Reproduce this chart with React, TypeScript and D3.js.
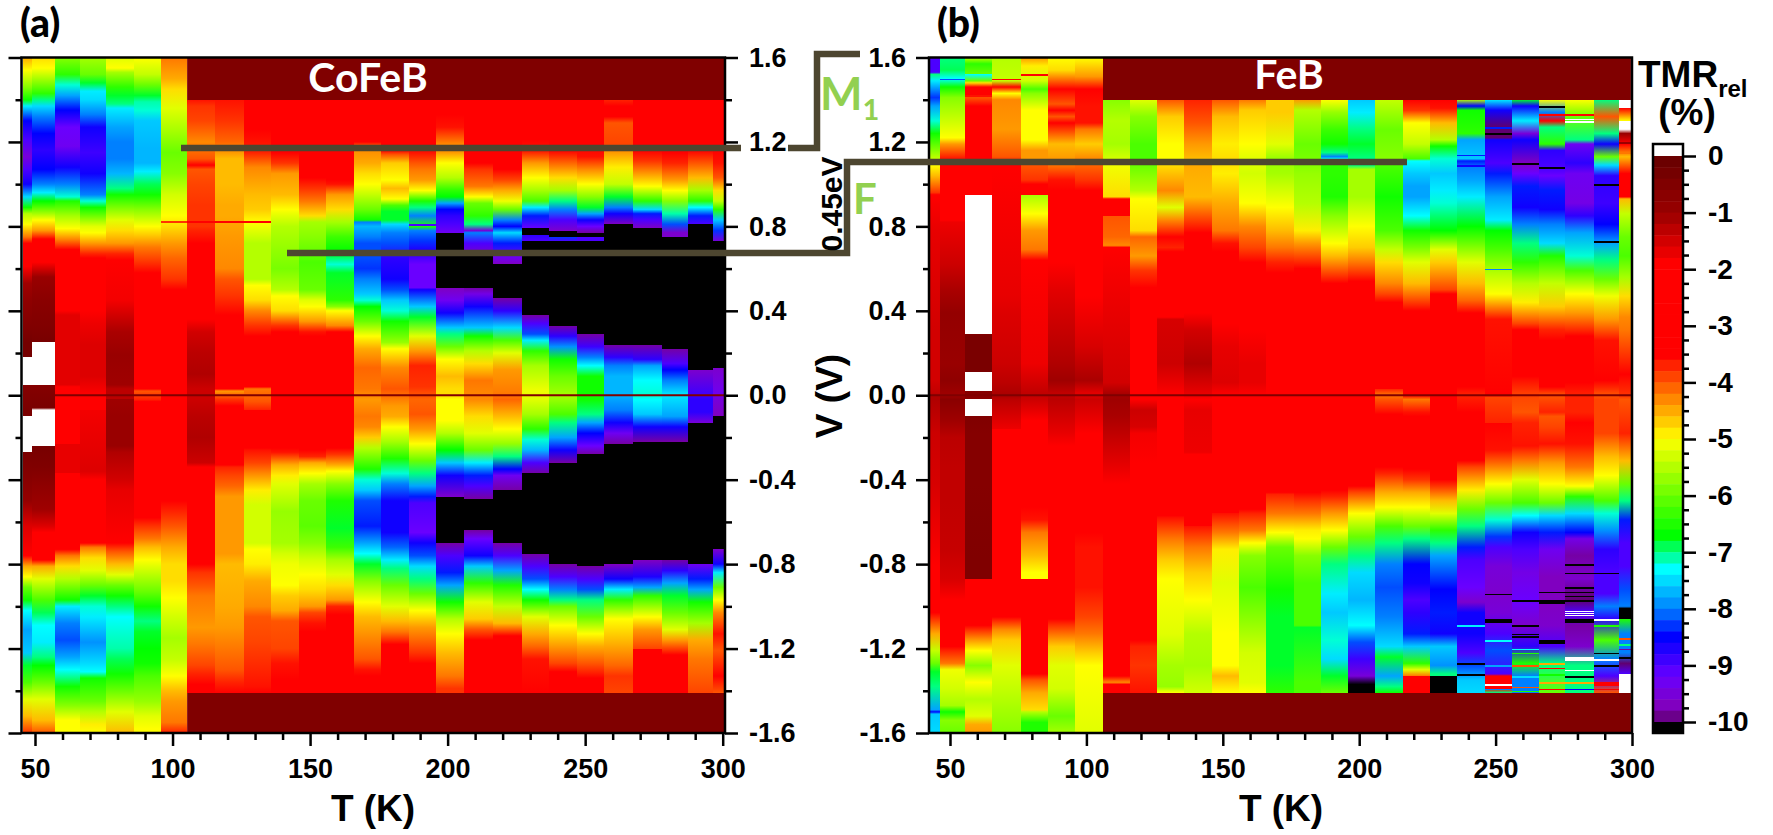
import * as d3 from 'd3';
import { useEffect, useRef } from 'react';

// colour bar levels
const colorValues = [0, -1, -1.9, -3.5, -5, -6.7, -7.3, -8, -8.5, -9.2, -9.7, -10];
const colorHex = ['#660000', '#990000', '#ff0000', '#ff0000', '#ffff00', '#00ff00', '#00ffff', '#0080ff', '#0000ff', '#6a00ff', '#8000c0', '#600070'];
const vMajor = [-1.6, -1.2, -0.8, -0.4, 0, 0.4, 0.8, 1.2, 1.6];
const vMinor = [-1.4, -1, -0.6, -0.2, 0.2, 0.6, 1, 1.4];
const tMajor = [50, 100, 150, 200, 250, 300];
const tMinor = [60, 70, 80, 90, 110, 120, 130, 140, 160, 170, 180, 190, 210, 220, 230, 240, 260, 270, 280, 290];
const barMajor = [0, -1, -2, -3, -4, -5, -6, -7, -8, -9, -10];
const barMinor = d3.range(0, -10.01, -0.25).filter(d => !Number.isInteger(d));
const barSteps = d3.range(0, -10, -0.2);

// column edges in K
const edgesA = [45.6, 48.9, 57.3, 66.4, 75.8, 86, 95.8, 105.3, 115.5, 126, 135.8, 146, 155.8, 166, 175.8, 186, 195.8, 206, 216.5, 227, 237, 247, 257, 267.5, 278, 287.5, 296.5, 300.5];
const edgesB = [42.4, 46.3, 55.5, 65.4, 76, 85.9, 95.8, 106, 115.9, 125.8, 135.7, 146, 155.9, 165.8, 176, 185.9, 195.8, 205.7, 215.9, 225.8, 235.7, 246, 255.9, 265.8, 275.6, 285.9, 295.4, 299.6];

// each column: V, TMR, V, TMR ... read down the column. Same V twice = sharp edge, 1 = no data (white)
const cofeb: number[][] = [
  [1.6,-4.5,1.54,-5,1.46,-5.8,1.4,-6.6,1.37,-7.4,1.3,-8.5,1.21,-9,1.13,-9.5,1.07,-9,1,-8.6,.94,-7.5,.89,-6.6,.86,-5.5,.81,-5,.75,-4.2,.72,-3.5,.61,-1.9,.53,-1.05,.45,-.8,.32,-.5,.25,-.3,.18,-.3,.18,1,.05,1,.05,-.6,-.07,-.4,-.1,-.4,-.1,1,-.27,1,-.27,-.4,-.38,-.6,-.5,-.9,-.62,-1.6,-.76,-3.5,-.81,-4.5,-.86,-5,-.91,-6,-.97,-6.6,-1.02,-7.3,-1.11,-7.8,-1.22,-7.6,-1.28,-6.8,-1.36,-6.2,-1.44,-5.2,-1.52,-4.6,-1.6,-3.8],
  [1.6,-4.8,1.55,-5,1.49,-5.7,1.43,-6.4,1.4,-7,1.37,-7.5,1.32,-8,1.24,-8.5,1.16,-8.8,1.07,-8.5,1,-8,.96,-7.4,.92,-6.7,.86,-5.6,.83,-5,.78,-4.4,.74,-3.5,.63,-1.9,.56,-1,.45,-.7,.32,-.5,.25,-.35,.25,1,.05,1,.05,-.6,-.06,-.4,-.07,1,-.24,1,-.24,-.35,-.34,-.5,-.43,-.8,-.54,-1.05,-.62,-1.6,-.65,-2.2,-.78,-3.5,-.81,-4.5,-.87,-5.2,-.97,-6.2,-1.03,-6.9,-1.09,-7.3,-1.17,-7.4,-1.24,-7,-1.28,-6.7,-1.36,-6,-1.44,-5.2,-1.54,-4.6,-1.6,-4],
  [1.6,-5.8,1.52,-6.4,1.47,-7.2,1.42,-7.8,1.35,-8.5,1.27,-9.2,1.18,-9.3,1.08,-8.6,1,-8,.94,-7.2,.92,-6.5,.85,-5.6,.79,-5,.74,-4.3,.69,-3.5,.4,-3,.38,-1.65,.05,-1.65,.04,-3,-.23,-3,-.23,-1.7,-.37,-1.7,-.37,-3,-.73,-3.3,-.76,-4.2,-.81,-4.8,-.87,-5.5,-.97,-6.6,-1,-7.4,-1.08,-8,-1.16,-8.2,-1.24,-7.8,-1.3,-7.3,-1.38,-6.6,-1.47,-5.8,-1.54,-5,-1.6,-5],
  [1.6,-5.6,1.52,-6,1.48,-6.8,1.44,-7.4,1.4,-7.5,1.33,-8,1.27,-8.6,1.15,-8.9,1.05,-8.6,.95,-8,.92,-7.2,.89,-6.6,.8,-5.2,.77,-5,.72,-4.4,.67,-3.7,.65,-3.5,.4,-3,.34,-1.75,.24,-1.6,.09,-1.6,0,-2.2,-.07,-3,-.07,-1.8,-.36,-1.6,-.4,-3,-.7,-3.2,-.72,-4.2,-.77,-4.8,-.83,-5.2,-.9,-6,-.95,-6.8,-1,-7.2,-1.05,-7.4,-1.17,-7.9,-1.27,-7.5,-1.31,-7.3,-1.34,-6.6,-1.45,-6,-1.5,-5.5,-1.56,-4.9,-1.6,-5],
  [1.6,-5.2,1.55,-5,1.53,-5.6,1.46,-6.4,1.42,-6.8,1.38,-7,1.36,-7.4,1.27,-7.8,1.2,-8,1.12,-8,1.05,-7.7,.98,-7,.95,-6.6,.9,-6,.83,-5.2,.78,-4.8,.72,-4.4,.67,-3.7,.64,-3.5,.45,-1.8,.3,-1.15,.19,-1,.05,-1.05,.03,-1.3,-.02,-1.3,-.02,-1.05,-.1,-1,-.24,-1,-.27,-1.2,-.4,-1.5,-.45,-1.7,-.7,-3,-.74,-4,-.8,-4.6,-.85,-5.2,-.9,-6,-.95,-6.6,-1,-7,-1.05,-7.3,-1.12,-7.2,-1.2,-7.1,-1.25,-6.9,-1.32,-6.6,-1.4,-6,-1.5,-5.2,-1.6,-4.6],
  [1.6,-5,1.52,-5.4,1.47,-6,1.42,-6.8,1.39,-7.1,1.35,-7.2,1.3,-7.6,1.17,-7.7,1.1,-7.7,1.06,-7.4,1,-6.9,.95,-6.6,.88,-5.8,.84,-5.4,.8,-5,.76,-4.7,.7,-4.2,.63,-3.8,.58,-3.5,.4,-3,.03,-3.3,.02,-4,-.02,-3.7,-.03,-3.2,-.5,-3.2,-.58,-3.5,-.62,-3.8,-.68,-4.2,-.72,-4.6,-.78,-5,-.84,-5.4,-.93,-6,-1,-6.6,-1.07,-7,-1.12,-6.8,-1.2,-6.7,-1.27,-6.6,-1.33,-6.2,-1.45,-5.7,-1.52,-5.2,-1.58,-5,-1.6,-5],
  [1.6,-4.2,1.5,-4.5,1.45,-4.8,1.36,-5.2,1.25,-5.6,1.15,-6,1.05,-5.8,.95,-5.3,.85,-5,.8,-4.8,.72,-4.4,.65,-4.1,.55,-3.8,.5,-3.5,.02,-3.3,-.5,-3,-.55,-3.7,-.62,-4,-.68,-4.3,-.72,-4.5,-.8,-4.8,-.88,-4.8,-.96,-5,-1.05,-5.3,-1.15,-5.6,-1.25,-5.4,-1.33,-5,-1.4,-4.6,-1.45,-4.4,-1.55,-4.2,-1.59,-3.8,-1.6,-3.6],
  [1.4,-3.6,1.37,-3.8,1.3,-3.9,1.2,-4.3,1.12,-4,1.09,-3.4,1.07,-4,1,-3.9,.9,-3.8,.8,-3.8,.78,-3.7,.72,-3.4,.62,-3,.36,-2.2,.3,-1.5,.2,-1.3,.1,-1.2,.03,-1.45,-.02,-1.45,-.1,-1.3,-.2,-1.2,-.32,-1.45,-.34,-2.4,-.6,-3,-.8,-3,-.84,-3.8,-.9,-4,-.95,-4.2,-1.1,-4.4,-1.18,-4.2,-1.28,-3.9,-1.32,-3.7,-1.37,-3.4,-1.41,-3.3],
  [1.4,-3.6,1.3,-3.8,1.2,-4.1,1.15,-4.4,1.12,-4.6,1,-4.6,.9,-4.5,.85,-4.5,.75,-4.4,.6,-4.3,.55,-4,.47,-3.8,.41,-3.6,.38,-3.1,.03,-3.1,.02,-4.4,-.02,-3.8,-.05,-3.1,-.33,-3,-.34,-3.7,-.38,-3.9,-.43,-4.1,-.48,-4.4,-.75,-4.4,-.8,-4.6,-1,-4.5,-1.1,-4.4,-1.2,-4.2,-1.3,-4,-1.36,-3.7,-1.41,-3.5],
  [1.4,-3,1.33,-3.1,1.3,-3.2,1.26,-3,1.2,-3.6,1.15,-3.7,1.08,-4.3,.95,-4.6,.88,-4.7,.82,-5,.72,-5.5,.55,-5.5,.52,-5,.45,-4.8,.4,-4.3,.33,-3.8,.28,-3.3,.04,-3,.03,-4.2,-.03,-4,-.07,-3.7,-.07,-3,-.25,-3,-.26,-3.6,-.32,-3.9,-.37,-4.3,-.45,-4.9,-.52,-5.3,-.7,-5.3,-.73,-5,-.8,-4.9,-.88,-4.5,-1,-4.3,-1.05,-4,-1.17,-3.9,-1.38,-3.6,-1.41,-3.4],
  [1.4,-3,1.2,-3.1,1.15,-3.4,1.1,-3.8,1.05,-4.4,.95,-4.6,.88,-5,.85,-5.2,.8,-5.5,.7,-5.7,.6,-5.9,.5,-5.5,.47,-5,.4,-4.8,.33,-3.8,.3,-3.3,0,-3,-.25,-3,-.27,-3.6,-.33,-4.5,-.38,-4.9,-.42,-5.2,-.55,-5.7,-.7,-5.6,-.75,-5.3,-.8,-5.1,-.9,-5,-.95,-4.7,-1.02,-4.5,-1.07,-4,-1.2,-3.9,-1.27,-3.6,-1.35,-3.4,-1.41,-3.3],
  [1.4,-3,1.12,-3,1.08,-3.4,1.03,-3.5,.98,-3.8,.92,-4.2,.85,-4.8,.82,-5.6,.75,-5.8,.63,-6.2,.5,-6,.45,-5.2,.42,-5,.35,-4.4,.3,-3.6,.28,-3.2,.01,-3,-.26,-3,-.29,-3.7,-.32,-4.5,-.37,-5,-.42,-5.6,-.5,-6,-.62,-6.1,-.7,-5.8,-.78,-5.3,-.85,-5,-.92,-4.8,-1,-4.4,-1.03,-3.9,-1.08,-3.6,-1.12,-3.1,-1.41,-3],
  [1.4,-3,1.02,-3,1,-3.6,.95,-4.4,.88,-4.8,.82,-5.6,.75,-6.3,.68,-6.7,.62,-7.2,.58,-6.8,.45,-6.4,.42,-5.8,.4,-5,.33,-4.3,.3,-3.5,.28,-3,0,-3,-.25,-3,-.28,-3.8,-.33,-4.5,-.36,-5,-.42,-5.8,-.5,-6.5,-.63,-6.8,-.72,-6.3,-.78,-5.6,-.85,-5.2,-.9,-4.8,-.97,-4.4,-1,-3.7,-1.04,-3.1,-1.41,-3],
  [1.4,-3,1.2,-3.1,1.17,-4.3,1.1,-4.5,1.05,-4.8,1,-5,.95,-5.4,.88,-6,.83,-6.6,.82,-8,.8,-7.7,.75,-8,.72,-8.2,.65,-8.2,.6,-8.3,.55,-8,.48,-7.6,.45,-7.2,.42,-6.7,.35,-6,.28,-5,.22,-4.5,.13,-4.1,.03,-4.2,-.02,-4.4,-.1,-4.2,-.15,-4.3,-.2,-4.7,-.25,-5.5,-.35,-6.5,-.4,-7.2,-.45,-7.6,-.5,-8.2,-.62,-8.4,-.7,-7.8,-.75,-7.3,-.8,-6.8,-.88,-5.8,-.98,-5,-1.05,-4.6,-1.15,-4.3,-1.25,-4,-1.3,-3.6,-1.33,-3.2,-1.41,-3],
  [1.4,-3,1.16,-3.3,1.14,-4,1.1,-4.7,1.02,-5,.98,-4.6,.93,-5,.9,-6.2,.87,-6.8,.83,-6.8,.81,-7.5,.77,-8,.72,-8.2,.65,-8.8,.55,-8.6,.5,-8.2,.45,-7.6,.4,-7.2,.35,-6.6,.25,-5.7,.22,-5,.13,-4.3,.03,-4,-.05,-4.4,-.1,-4.5,-.15,-5,-.22,-5.6,-.3,-6.5,-.37,-7.2,-.42,-8,-.5,-8.6,-.65,-8.6,-.72,-8.1,-.78,-7.4,-.82,-7,-.9,-6,-1,-5.2,-1.07,-4.6,-1.12,-4.2,-1.18,-3.5,-1.25,-3.1,-1.41,-3],
  [1.4,-3,1.19,-3.5,1.15,-3.6,1.1,-4,1.07,-4.2,1.02,-4.4,.97,-5,.92,-6.5,.89,-7,.85,-8,.8,-6.5,.78,-8,.73,-8.3,.69,-8.7,.62,-9.2,.51,-9.2,.5,-8.6,.42,-7.6,.37,-6.8,.28,-5.2,.21,-4.4,.14,-3.7,.04,-3.8,0,-4,-.02,-4.1,-.09,-4,-.16,-4.4,-.23,-5,-.31,-6,-.37,-7,-.43,-7.8,-.48,-8.4,-.51,-9,-.65,-9.2,-.7,-8.6,-.76,-8.2,-.81,-7.5,-.87,-7,-.94,-6,-1.02,-5,-1.1,-4.4,-1.22,-3.8,-1.27,-3.4,-1.41,-3.1],
  [1.4,-3,1.33,-3.2,1.27,-3.6,1.19,-4.3,1.15,-4.4,1.1,-5,1.03,-5.5,.97,-6.4,.94,-6.7,.91,-7.8,.88,-8.5,.85,-8.8,.81,-9,.77,-9.3,.77,-10.2,.51,-10.2,.51,-9.7,.45,-9.3,.39,-8.6,.32,-7.6,.29,-7,.23,-6,.17,-5,.09,-4.6,.03,-4.8,0,-4.8,-.02,-5,-.12,-5,-.18,-5.5,-.26,-6.7,-.32,-7.6,-.38,-8.6,-.48,-9.6,-.48,-10.2,-.7,-10.2,-.7,-9.8,-.76,-9,-.84,-8.4,-.9,-7.8,-.98,-6.6,-1.06,-5.5,-1.13,-5,-1.22,-4.6,-1.33,-4.2,-1.39,-3.8,-1.41,-3.8],
  [1.4,-3,1.1,-3.2,1.07,-3.8,.99,-4.2,.94,-5,.91,-6,.85,-6.4,.81,-7,.78,-9.5,.77,-8,.72,-9,.66,-9.7,.66,-10.2,.51,-10.2,.51,-9.8,.48,-9.4,.42,-8.6,.32,-7.6,.28,-6.6,.21,-5.5,.15,-4.8,.07,-4.2,0,-4.3,-.02,-4.3,-.1,-4.8,-.18,-5.2,-.26,-6,-.32,-7.4,-.38,-8.4,-.43,-9,-.49,-9.8,-.49,-10.2,-.64,-10.2,-.64,-9.8,-.68,-9.2,-.76,-8.6,-.81,-7.6,-.89,-6.4,-.98,-5.2,-1.06,-4.7,-1.11,-4,-1.16,-3.2,-1.41,-3],
  [1.4,-2.2,1.3,-3,1.22,-2.6,1.07,-3,1.02,-3.9,.97,-4.5,.92,-5.1,.88,-6,.83,-8,.8,-8.5,.77,-7.5,.72,-8.4,.66,-9.2,.62,-9.7,.62,-10.2,.46,-10.2,.46,-9.8,.4,-8.8,.32,-7.5,.26,-6.2,.2,-5.2,.12,-4.4,0,-4.2,-.02,-4.1,-.1,-4.6,-.16,-5,-.23,-5.7,-.29,-7,-.35,-8.5,-.38,-9.3,-.45,-9.8,-.45,-10.2,-.7,-10.2,-.7,-9.8,-.76,-9,-.83,-7.8,-.9,-6.5,-1,-5.4,-1.08,-4.6,-1.14,-3.3,-1.41,-3],
  [1.4,-3,1.21,-3.1,1.16,-3.6,1.1,-4.4,1.03,-5,.97,-5.6,.92,-6.2,.89,-7.4,.85,-8.4,.79,-9.2,.79,-10.2,.76,-10.2,.76,-8.8,.73,-9,.73,-10.2,.38,-10.2,.38,-9.8,.34,-9,.29,-8.2,.26,-7.4,.21,-6.4,.14,-5.6,.02,-5.1,-.02,-5.2,-.09,-5.6,-.16,-6.4,-.21,-7.2,-.26,-7.7,-.32,-9,-.37,-9.8,-.37,-10.2,-.75,-10.2,-.75,-9.8,-.81,-9,-.87,-8.2,-.92,-7.3,-.97,-6.6,-1.05,-5.2,-1.13,-4.5,-1.19,-4.1,-1.25,-3.6,-1.41,-3.1],
  [1.4,-3,1.16,-3.4,1.11,-4,1.03,-4.8,.97,-5.6,.92,-7,.88,-8,.83,-9,.78,-9.6,.78,-10.2,.75,-10.2,.75,-8.3,.73,-9,.73,-10.2,.33,-10.2,.33,-9.8,.28,-8.8,.23,-7.9,.17,-6.6,.09,-6,0,-5.6,-.02,-5.7,-.09,-6.2,-.13,-7,-.2,-7.8,-.26,-8.6,-.32,-9.8,-.32,-10.2,-.8,-10.2,-.8,-9.8,-.86,-9,-.92,-8,-.97,-7,-1,-6,-1.09,-5,-1.19,-4.4,-1.27,-3.9,-1.31,-3.4,-1.41,-3.1],
  [1.4,-3,1.18,-3.1,1.13,-3.6,1.07,-4.3,1,-5,.94,-5.8,.89,-6.8,.86,-7.8,.83,-8.6,.8,-9.2,.77,-9.8,.77,-10.2,.75,-10.2,.75,-9,.73,-9,.73,-10.2,.29,-10.2,.29,-9.8,.23,-8.9,.18,-8,.14,-7.3,.09,-6.6,0,-6.6,-.02,-6.6,-.09,-7,-.13,-7.8,-.18,-8.5,-.24,-9.2,-.28,-9.8,-.28,-10.2,-.81,-10.2,-.81,-9.8,-.87,-9,-.92,-8.2,-.97,-7,-1.05,-6,-1.13,-5,-1.19,-4.5,-1.27,-4,-1.34,-3.4,-1.41,-3],
  [1.4,-3.7,1.37,-3,1.32,-3,1.29,-4,1.19,-3.9,1.15,-4.4,1.08,-4.9,1,-5.4,.94,-6.8,.89,-8,.86,-8.6,.81,-9.7,.81,-10.2,.24,-10.2,.24,-9.8,.18,-8.8,.14,-8,.09,-7.7,0,-7.7,-.02,-7.8,-.07,-8,-.13,-8.6,-.18,-9.3,-.23,-9.8,-.23,-10.2,-.8,-10.2,-.8,-9.7,-.87,-8.6,-.92,-7.4,-.97,-6.4,-1.06,-5,-1.16,-4.6,-1.28,-4.1,-1.33,-3.8,-1.41,-3.9],
  [1.4,-3,1.21,-3.1,1.16,-3.2,1.11,-3.8,1.05,-4.4,.99,-5,.92,-6.4,.88,-7.5,.86,-8.4,.83,-9,.79,-9.7,.79,-10.2,.24,-10.2,.24,-9.8,.17,-8.8,.14,-7.8,.07,-7.3,0,-7.2,-.02,-7.3,-.09,-7.6,-.15,-8.6,-.22,-9.8,-.22,-10.2,-.78,-10.2,-.78,-9.7,-.86,-8.7,-.91,-7.8,-.95,-6.4,-1.05,-5,-1.11,-4.4,-1.2,-3.9,-1.2,-3.1,-1.41,-3],
  [1.4,-3,1.21,-2.2,1.15,-3.1,1.1,-3.7,1.02,-4.4,.97,-5,.92,-5.8,.86,-7.1,.81,-8.2,.77,-9.6,.75,-9.6,.75,-10.2,.22,-10.2,.22,-9.8,.15,-9,.12,-8.5,.07,-8,0,-7.4,-.02,-7.5,-.1,-7.8,-.15,-8.6,-.22,-9.8,-.22,-10.2,-.78,-10.2,-.78,-9.8,-.83,-8.8,-.89,-7.8,-.95,-6.8,-1.03,-6,-1.11,-5.2,-1.16,-4.4,-1.23,-3.5,-1.41,-3],
  [1.4,-3.4,1.32,-3.1,1.16,-3.3,1.1,-4,1.03,-4.6,.97,-5.6,.92,-6.4,.89,-7.3,.85,-8.4,.81,-9,.81,-10.2,.12,-10.2,.12,-9.6,0,-8.9,-.02,-8.8,-.08,-8.8,-.13,-9.5,-.13,-10.2,-.8,-10.2,-.8,-9.3,-.87,-8.4,-.92,-7.8,-.98,-6.6,-1.08,-5.6,-1.16,-4.5,-1.25,-4.2,-1.41,-3.9],
  [1.4,-3,1.16,-3,1.1,-3.6,1.03,-4,.97,-4.8,.92,-5.4,.88,-6.4,.83,-7.6,.78,-8.3,.73,-9.5,.73,-10.2,.13,-10.2,.13,-9.6,0,-9.3,-.02,-9.5,-.1,-9.7,-.1,-10.2,-.73,-10.2,-.73,-9.6,-.8,-8.6,-.84,-7.4,-.91,-6,-.97,-5,-1.03,-4.3,-1.13,-3.6,-1.21,-4,-1.33,-3.5,-1.41,-4],
];

const feb: number[][] = [
  [1.6,-9,1.53,-9,1.52,-7,1.49,-7.4,1.41,-8.3,1.37,-7.8,1.3,-7.2,1.24,-6.6,1.18,-6,1.12,-5.4,1.09,-5,1.04,-4.6,.96,-3.8,.95,-3,.78,-1.7,.31,-1.5,.07,-1.5,.01,-1.35,0,-1.2,-.02,-1.2,-.18,-1.45,-.42,-1.55,-.65,-1.75,-.81,-3,-1.03,-3,-1.05,-3.7,-1.13,-4.5,-1.21,-5.4,-1.27,-6,-1.31,-6.8,-1.38,-7,-1.49,-7.8,-1.5,-8.5,-1.51,-7.6,-1.6,-7.5],
  [1.6,-7,1.54,-6.9,1.5,-7.3,1.46,-6.6,1.41,-5.8,1.29,-5.3,1.22,-5,1.19,-4.4,1.12,-3.6,1.09,-3,.83,-3,.82,-1.75,.62,-1.45,.5,-1.15,.39,-.9,.15,-1,.07,-.8,0,-1.05,-.02,-.7,-.12,-1.05,-.2,-1.3,-.34,-1.35,-.5,-1.35,-.73,-1.4,-.87,-1.55,-.97,-1.9,-1.19,-3,-1.21,-3.7,-1.27,-4.2,-1.3,-5.1,-1.39,-5.3,-1.47,-5.6,-1.5,-6.6,-1.54,-5.8,-1.6,-6],
  [1.6,-5.4,1.57,-6.4,1.52,-6,1.52,-7.3,1.49,-6,1.48,-4.8,1.46,-3.4,1.42,-3,1.41,-4,1.37,-3,1.19,-3,.95,-3,.95,1,.29,1,.29,-.5,.28,-.4,.11,-.4,.11,1,.02,1,.02,-.6,-.02,-.7,-.02,1,-.1,1,-.1,-.5,-.18,-.6,-.42,-.6,-.77,-.5,-.87,-.5,-.87,-3,-1.03,-3,-1.08,-3,-1.09,-3.5,-1.16,-4.4,-1.21,-5,-1.28,-5.8,-1.36,-5,-1.44,-5.5,-1.52,-5.2,-1.56,-4.5,-1.6,-4.4],
  [1.6,-5.5,1.49,-5.4,1.46,-3.5,1.43,-5,1.4,-4.3,1.26,-4.4,1.13,-4,1.09,-3.2,1.07,-3,.47,-1.7,.39,-1.6,.15,-1.45,.06,-1.3,0,-1.15,-.02,-1.3,-.16,-1.75,-.16,-3,-1.03,-3,-1.05,-3.5,-1.11,-4.3,-1.16,-4.7,-1.28,-5.2,-1.39,-5.4,-1.49,-5.6,-1.6,-5.8],
  [1.6,-4.4,1.56,-4.9,1.49,-5.3,1.45,-6.2,1.43,-5.8,1.35,-5,1.21,-5,1.16,-4.4,1.12,-4.4,1.09,-4,1.02,-3.8,1,-3,.95,-3,.95,-5.6,.86,-5,.78,-4.4,.69,-4.2,.64,-3.5,.63,-3,.15,-1.75,.01,-1.35,-.02,-1.45,-.12,-3,-.53,-3,-.59,-3.6,-.65,-4.2,-.76,-4.6,-.84,-5,-.87,-5,-.87,-3,-1.03,-3,-1.24,-3,-1.25,-3.5,-1.32,-3,-1.35,-4,-1.41,-4.5,-1.49,-4.8,-1.5,-5.5,-1.55,-6.5,-1.6,-6.5],
  [1.6,-5,1.54,-4.8,1.45,-3.4,1.38,-4,1.35,-3.1,1.32,-4,1.29,-3.5,1.19,-4.6,1.12,-4.4,1.08,-4.1,1.02,-3.6,.97,-3,.63,-3,.5,-1.65,.15,-1.2,.07,-1.05,.01,-1.35,-.02,-1.3,-.18,-1.7,-.24,-3,-.87,-3,-.91,-3.5,-1.06,-3.3,-1.09,-3.8,-1.19,-4.7,-1.28,-5.2,-1.39,-5.3,-1.52,-6,-1.6,-5.6],
  [1.6,-5,1.51,-4.4,1.45,-3.5,1.37,-3.6,1.29,-3.6,1.26,-4.2,1.19,-4.7,1.12,-4.3,1.09,-4.1,1.02,-3.8,.97,-3.2,.86,-3.5,.8,-3,.47,-2.4,.23,-1.55,.07,-1.15,.01,-1.65,-.02,-1.45,-.18,-3,-.65,-3,-.72,-3.6,-.91,-3.6,-1.05,-3.9,-1.13,-4.2,-1.22,-4.7,-1.28,-5,-1.44,-5.1,-1.6,-5.2],
  [1.4,-5.8,1.3,-5.5,1.19,-5.6,1.12,-5.3,1.09,-5.1,.94,-4.8,.93,-3.2,.85,-3,.85,-4,.75,-4.1,.71,-4.3,.7,-3,.23,-1.6,.06,-1.5,0,-1.1,-.02,-1.05,-.1,-1.15,-.23,-1.45,-.34,-1.7,-.42,-3,-1.25,-3,-1.33,-3.5,-1.36,-4.3,-1.37,-3,-1.41,-3.2],
  [1.4,-5.2,1.32,-5.8,1.19,-6.2,1.12,-6.2,1.09,-6,.97,-5.5,.93,-5,.78,-4.8,.75,-4.1,.66,-4.4,.59,-3.8,.51,-3.5,.51,-3,-.02,-3,-.07,-1.45,-.15,-1.55,-.18,-1.8,-.32,-3,-1.16,-3,-1.19,-3.7,-1.28,-3.8,-1.41,-3.6],
  [1.4,-4,1.32,-4.7,1.19,-5,1.12,-5,1.09,-4.8,.97,-4.3,.89,-5.2,.83,-4.3,.75,-3.5,.7,-3.7,.68,-3,.37,-2.4,.36,-1.55,.15,-1.45,0,-3,-.57,-3,-.58,-3.6,-.68,-4.2,-.78,-4.7,-.87,-5,-1.13,-5.2,-1.28,-5.6,-1.38,-5.7,-1.41,-5],
  [1.4,-3.7,1.29,-4,1.19,-4.4,1.12,-4.6,1.09,-4.5,.94,-4.6,.85,-4,.77,-3.3,.75,-3,.39,-2.2,.31,-1.5,.15,-1.2,.01,-1.7,-.02,-3,-.07,-1.7,-.27,-1.75,-.28,-3,-.62,-3,-.62,-3.6,-.72,-4.2,-.84,-4.7,-.97,-5,-1.13,-5.5,-1.28,-5.6,-1.41,-5.3],
  [1.4,-4,1.32,-4.6,1.19,-4.9,1.12,-4.8,1.05,-4.9,.91,-4.5,.78,-4.2,.72,-3.6,.68,-3,.34,-3,.23,-1.7,.06,-1.6,0,-3,-.56,-3,-.56,-3.6,-.65,-4.2,-.73,-4.9,-.89,-5.2,-1.13,-5,-1.28,-5,-1.33,-4.6,-1.41,-5],
  [1.4,-4.2,1.35,-4.7,1.19,-5,1.12,-5.2,1.05,-5.3,.91,-5,.8,-4.3,.7,-3.9,.63,-3.5,.62,-3,.31,-2.2,.15,-1.7,.06,-1.7,0,-3,-.54,-3,-.56,-3.7,-.64,-4.2,-.7,-5,-.76,-5.8,-.91,-6.2,-1.05,-5.8,-1.22,-5.3,-1.36,-5.2,-1.41,-5],
  [1.4,-4.7,1.34,-4.7,1.19,-5.2,1.12,-5.7,1.05,-5.6,.89,-5,.78,-4.6,.7,-4.2,.63,-3.7,.58,-3.2,0,-3,-.46,-3,-.47,-3.7,-.56,-4.2,-.65,-5,-.72,-6,-.92,-6.6,-1.05,-6.8,-1.28,-6.8,-1.41,-6.4],
  [1.4,-4.4,1.35,-5.5,1.19,-6,1.12,-5.9,1.05,-5.7,.91,-5.5,.78,-4.9,.72,-4.4,.64,-3.8,.6,-3.1,.15,-2.2,0,-3,-.46,-3,-.5,-3.8,-.56,-4.2,-.64,-4.9,-.68,-5,-.76,-5.8,-.89,-6.2,-1.09,-6.2,-1.1,-6.8,-1.36,-6.2,-1.41,-6.2],
  [1.4,-5,1.34,-5.7,1.26,-6.3,1.19,-6.6,1.15,-7,1.13,-8,1.12,-7.3,1.09,-6.4,1.05,-6.4,.94,-6.5,.85,-5.8,.72,-5,.66,-4.6,.59,-4,.53,-3.3,0,-3,-.45,-3,-.48,-3.7,-.56,-4.4,-.64,-5,-.72,-6,-.8,-7,-.94,-7.4,-1.03,-7.6,-1.16,-7.2,-1.25,-7.5,-1.33,-6.8,-1.41,-6],
  [1.4,-7.6,1.34,-7.4,1.26,-7,1.19,-6.8,1.12,-7,1.09,-7,1.07,-5.6,.94,-5.6,.8,-5,.7,-4.7,.63,-4.2,.54,-3.5,.51,-3,0,-3,-.43,-3,-.46,-3.9,-.56,-5,-.67,-6,-.76,-7,-.84,-7.5,-.97,-7.7,-1.09,-7.3,-1.17,-8.2,-1.25,-8.9,-1.33,-9.5,-1.37,-10.2,-1.41,-10.2],
  [1.4,-5.4,1.26,-6,1.12,-5.8,1.09,-6.2,.94,-6.6,.78,-6.2,.69,-5.4,.63,-4.8,.53,-4.3,.48,-3.9,.44,-3.5,.39,-3.1,.03,-3,.03,-3.7,0,-4.2,-.02,-4,-.09,-3,-.34,-3,-.37,-3.7,-.46,-4.5,-.53,-5,-.62,-6.2,-.7,-7,-.8,-8,-.91,-8.2,-1.05,-8,-1.19,-7.5,-1.24,-6.8,-1.33,-7.8,-1.38,-7,-1.41,-6.6],
  [1.4,-3.4,1.35,-3.8,1.29,-5,1.19,-5.4,1.12,-6.2,1.11,-7.3,1.05,-7.6,.99,-7.8,.94,-7.8,.85,-7.3,.78,-6.6,.7,-5.9,.63,-5.2,.53,-4.6,.47,-4.1,.4,-3.5,0,-3.3,-.02,-4.2,-.08,-3.6,-.1,-3,-.35,-3.1,-.4,-3.8,-.46,-4.5,-.53,-5,-.62,-6,-.68,-7,-.8,-8.5,-.89,-8.6,-.97,-9,-1.03,-8.8,-1.13,-8.4,-1.19,-7.6,-1.27,-6.4,-1.3,-5.2,-1.33,-4.2,-1.33,-3,-1.41,-3],
  [1.4,-3,1.36,-3.6,1.29,-4.6,1.21,-5.5,1.18,-6.6,1.12,-7.2,1.05,-7.6,.97,-7.4,.91,-7.2,.78,-6.7,.69,-5.2,.63,-4.7,.5,-3.9,.48,-3,0,-3,-.4,-3,-.43,-3.8,-.5,-4.6,-.56,-5.2,-.64,-6.4,-.7,-7,-.76,-7.8,-.92,-8.5,-1.03,-8.4,-1.13,-8.6,-1.19,-7.6,-1.28,-7.9,-1.32,-7,-1.33,-7,-1.33,-10.2,-1.41,-10.2],
  [1.4,-5.5,1.37,-8.5,1.35,-6.6,1.24,-6.4,1.21,-7.8,1.12,-7.6,1.11,-8.4,1.08,-8,1.02,-7.8,.94,-7.4,.8,-6.7,.72,-6,.63,-5.2,.53,-4.6,.45,-4.1,.39,-3.4,.04,-3,0,-3.7,-.08,-3.5,-.1,-3,-.31,-3,-.34,-3.9,-.45,-4.9,-.54,-6,-.62,-7,-.72,-8.4,-.78,-9,-.91,-9.2,-.98,-9.6,-1.03,-8.6,-1.13,-8.6,-1.22,-9,-1.28,-8.2,-1.35,-7.6,-1.41,-7.5],
  [1.4,-7.4,1.35,-8.6,1.27,-10,1.22,-10,1.21,-8.6,1.1,-9,1.05,-8.4,.94,-7.8,.83,-7.4,.78,-6.7,.69,-6.2,.58,-5.5,.48,-5,.42,-4.3,.36,-3.6,0,-3.5,-.01,-3.9,-.13,-3.7,-.13,-3.5,-.26,-3.6,-.32,-4.1,-.42,-5,-.51,-6,-.59,-7.2,-.67,-8.3,-.72,-9,-.81,-9.5,-.94,-9.6,-1.03,-9.5,-1.13,-9,-1.21,-8.2,-1.32,-9,-1.33,-3,-1.39,-3,-1.41,-7],
  [1.4,-6.8,1.37,-8.6,1.3,-7.4,1.24,-9.5,1.21,-8.6,1.1,-9.7,1.05,-9.2,.99,-8.4,.89,-8.6,.81,-8,.72,-7,.63,-6.4,.53,-5.5,.44,-4.9,.34,-3.9,.31,-3.2,.09,-3,.07,-3.6,0,-3.9,-.08,-4,-.13,-3.7,-.24,-3.6,-.31,-4.2,-.4,-5.2,-.51,-6.2,-.57,-7.3,-.65,-8.6,-.73,-9,-.84,-9.4,-.97,-9.2,-1.09,-9.6,-1.19,-8.8,-1.27,-6.5,-1.33,-8,-1.41,-8],
  [1.4,-5,1.34,-8,1.3,-3,1.27,-7,1.19,-6.4,1.16,-8.8,1.07,-9,1.04,-9.2,.97,-8.4,.88,-8.6,.81,-8,.72,-7.5,.66,-6.5,.53,-5.4,.42,-4.7,.31,-3.7,.26,-3.1,.06,-3,.04,-3.5,0,-4,-.08,-3.7,-.1,-4,-.15,-3.9,-.23,-3.6,-.32,-4.4,-.42,-5,-.51,-6,-.57,-7.5,-.65,-8.4,-.73,-9.3,-.86,-9.7,-.97,-9.7,-1.09,-9.6,-1.19,-9,-1.27,-7,-1.41,-6],
  [1.4,-5,1.32,-6,1.21,-7,1.19,-9.3,1.1,-8.8,1.05,-9.3,.91,-9.4,.85,-8.8,.77,-7.8,.66,-7.2,.59,-6.2,.48,-5,.39,-4.4,.28,-3.3,.06,-3,0,-3.7,-.08,-3.7,-.13,-3.4,-.23,-3.6,-.34,-4.2,-.43,-5,-.48,-6.4,-.56,-7.5,-.65,-8.5,-.68,-9.4,-.76,-9.8,-.87,-9.6,-.97,-10,-1.03,-9,-1.09,-9.8,-1.19,-9.6,-1.28,-7,-1.41,-7],
  [1.4,-7,1.32,-4,1.24,-7,1.19,-8.6,1.13,-6,1.09,-7.5,1.04,-8.8,.91,-8.9,.81,-8.5,.72,-7.8,.64,-7,.55,-6,.47,-5.1,.36,-4.4,.26,-3.6,.07,-3,.04,-3.7,0,-4,-.02,-3.9,-.18,-3.9,-.29,-4.6,-.38,-5,-.5,-6.2,-.56,-7.2,-.64,-7.9,-.73,-8.8,-.84,-9,-.94,-9,-1,-8,-1.06,-8.8,-1.16,-6.2,-1.25,-8,-1.33,-9,-1.41,-4],
  [1.4,1,1.36,1,1.36,-3,1.3,-5,1.3,1,1.26,1,1.24,-1,1.19,-3,1.13,-4.6,1.05,-3.2,.94,-3,.93,-4.6,.86,-5.4,.75,-6,.66,-6.2,.56,-5.6,.47,-4.8,.37,-4.3,.31,-4.2,.1,-3.5,0,-3.8,-.02,-4,-.18,-3.7,-.31,-4.6,-.42,-6,-.5,-7,-.59,-8.4,-.7,-9,-.81,-9,-.92,-8.2,-1,-8,-1.01,-10.2,-1.06,-10.2,-1.06,-6.5,-1.13,-8,-1.22,-8,-1.27,-10,-1.32,-9,-1.32,1,-1.41,1],
];

// thin noise lines: column index, V, TMR
const stripesA = [[6,.825,-3.8],[7,.825,-3.2],[8,.825,-3.4],[9,.825,-3.2],[15,.81,-9]];
const stripesB = [
  [1,1.5,-8.2],[2,1.42,-3.6],[3,1.5,-3.4],[4,1.52,-3.4],[20,1.09,-8.6],[20,-1.09,-7.4],[20,-1.27,-10.2],[20,-1.32,-10.2],[20,1.14,-8.4],
  [21,1.24,-10.2],[21,1.27,-8.4],[21,-.94,-10.2],[21,-1.06,-10.2],[21,-1.07,-10.2],[21,-1.16,-7.3],[21,-1.28,-7.8],[21,-1.37,1],[21,-1.39,-8],[21,.6,-8],
  [22,-.97,-10.2],[22,-1.09,-10.2],[22,-1.13,-10.2],[22,-1.14,-10.2],[22,-1.2,-7.3],[22,-1.22,-6.5],[22,-1.28,-4],[22,-1.33,-7.5],[22,-1.38,-4],[22,-1.4,-6.5],[22,1.1,-10.2],
  [23,-.93,-10.2],[23,-.97,-10.2],[23,-.98,-10.2],[23,-1.16,-10.2],[23,-1.17,-10.2],[23,-1.27,-4.5],[23,-1.29,-3],[23,-1.32,-6.6],[23,-1.36,-4.5],[23,-1.39,-3],[23,1.08,-10.2],[23,1.37,-10.2],[23,1.33,-3],
  [24,-.8,-10.2],[24,-.84,-10.2],[24,-.91,-10.2],[24,-.93,-10.2],[24,-.95,-10.2],[24,-.97,-10.2],[24,-1.02,1],[24,-1.03,1],[24,-1.04,1],[24,-1.06,-10.2],[24,-1.07,-10.2],[24,-1.24,1],[24,-1.25,1],[24,-1.3,1],[24,-1.33,-10.2],[24,-1.36,-4.5],[24,-1.39,-8.5],[24,1.31,1],[24,1.3,1],[24,1.33,-3],
  [25,-.84,-10.2],[25,-1.06,1],[25,-1.09,-6.5],[25,-1.22,-10.2],[25,-1.25,1],[25,-1.28,-10.2],[25,-1.36,-3],[25,-1.37,-3],[25,-1.39,-3],[25,.73,-10.2],[25,1.0,-10.2],
  [26,-1.15,-4],[26,-1.2,-9.8],[26,-1.18,-7],[26,-1.24,-10.2],[26,1.2,-1],[26,1.15,-4.2],
];

const Y = d3.scaleLinear().domain([-1.6, 1.6]).range([733, 57.5]);
const xA = d3.scaleLinear().domain([50, 300]).range([35, 722.7]);
const xB = d3.scaleLinear().domain([50, 300]).range([950, 1632]);
const barY = d3.scaleLinear().domain([0, -10]).range([156, 722]);
const ramp = d3.scaleLinear<string>().domain(colorValues).range(colorHex).clamp(true);
const tmrColor = (v: number) => (v > 0.2 ? '#ffffff' : v < -10.05 ? '#000000' : ramp(v));

const boldFont = '"Liberation Sans", Arial, sans-serif';
const softFont = 'Lato, "Open Sans", sans-serif';
const annotation = '#4d4630';
const green = '#92d050';
const sweepRed = '#800000';

function Heatmap({ name, columns, edges, x, stripes, sweepEnd }: any) {
  const span = Y(-1.6) - Y(1.6);
  return (
    <g>
      <defs>
        {columns.map((col: number[], i: number) => (
          <linearGradient key={i} id={`${name}${i}`} gradientUnits="userSpaceOnUse" x1="0" x2="0" y1={Y(1.6)} y2={Y(-1.6)}>
            {d3.range(0, col.length, 2).map(k => (
              <stop key={k} offset={(Y(col[k]) - Y(1.6)) / span} stopColor={tmrColor(col[k + 1])} />
            ))}
          </linearGradient>
        ))}
      </defs>
      <rect x={x(sweepEnd)} width={x(edges[edges.length - 1]) - x(sweepEnd)} y={Y(1.6)} height={Y(-1.6) - Y(1.6)} fill={sweepRed} />
      {columns.map((col: number[], i: number) => (
        <rect key={i} x={x(edges[i])} width={x(edges[i + 1]) - x(edges[i])} y={Y(col[0])} height={Y(col[col.length - 2]) - Y(col[0])} fill={`url(#${name}${i})`} shapeRendering="crispEdges" />
      ))}
      {stripes.map((s: number[], i: number) => (
        <rect key={i} x={x(edges[s[0]])} width={x(edges[s[0] + 1]) - x(edges[s[0]])} y={Y(s[1])} height={Y(0) - Y(0.008)} fill={tmrColor(s[2])} shapeRendering="crispEdges" />
      ))}
      <rect x={x(edges[0])} width={x(edges[edges.length - 1]) - x(edges[0])} y={Y(0) - 1} height={2} fill={sweepRed} />
    </g>
  );
}

export default function App() {
  const axes = useRef<SVGGElement>(null);

  useEffect(() => {
    const root = d3.select(axes.current);
    root.selectAll('*').remove();
    const put = (tx: number, ty: number, axis: any, size: number) => {
      const g = root.append('g').attr('transform', `translate(${tx},${ty})`).call(axis);
      g.select('.domain').remove();
      g.selectAll('line').attr('stroke', '#000').attr('stroke-width', 2.5);
      g.selectAll('text').attr('font-family', boldFont).attr('font-weight', 700).attr('font-size', size).attr('fill', '#000');
    };
    const vText = (d: number) => d.toFixed(1);
    const barText = (d: number) => String(d);

    // panel a
    put(21.5, 0, d3.axisLeft(Y).tickValues(vMajor).tickSize(13).tickFormat(() => ''), 27);
    put(21.5, 0, d3.axisLeft(Y).tickValues(vMinor).tickSize(6).tickFormat(() => ''), 27);
    put(725, 0, d3.axisRight(Y).tickValues(vMajor).tickSize(13).tickPadding(11).tickFormat(vText as any), 27);
    put(725, 0, d3.axisRight(Y).tickValues(vMinor).tickSize(7).tickFormat(() => ''), 27);
    put(0, 733, d3.axisBottom(xA).tickValues(tMajor).tickSize(13).tickPadding(13), 27);
    put(0, 733, d3.axisBottom(xA).tickValues(tMinor).tickSize(7).tickFormat(() => ''), 27);

    // panel b
    put(929, 0, d3.axisLeft(Y).tickValues(vMajor).tickSize(13).tickPadding(10).tickFormat(vText as any), 27);
    put(929, 0, d3.axisLeft(Y).tickValues(vMinor).tickSize(6).tickFormat(() => ''), 27);
    put(0, 733, d3.axisBottom(xB).tickValues(tMajor).tickSize(13).tickPadding(13), 27);
    put(0, 733, d3.axisBottom(xB).tickValues(tMinor).tickSize(7).tickFormat(() => ''), 27);

    // colour bar
    put(1683, 0, d3.axisRight(barY).tickValues(barMajor).tickSize(13).tickPadding(12).tickFormat(barText as any), 28);
    put(1683, 0, d3.axisRight(barY).tickValues(barMinor).tickSize(6).tickFormat(() => ''), 28);
  }, []);

  return (
    <svg width={1773} height={835} style={{ position: 'absolute', left: 0, top: 0, display: 'block', background: '#fff' }}>
      <Heatmap name="cofeb" columns={cofeb} edges={edgesA} x={xA} stripes={stripesA} sweepEnd={105.3} />
      <Heatmap name="feb" columns={feb} edges={edgesB} x={xB} stripes={stripesB} sweepEnd={106} />

      {/* frames */}
      <rect x={21.5} y={57.5} width={703.5} height={675.5} fill="none" stroke="#000" strokeWidth={2.5} />
      <rect x={929} y={57.5} width={703} height={675.5} fill="none" stroke="#000" strokeWidth={2.5} />

      {/* colour bar */}
      <rect x={1653} y={144} width={30} height={12} fill="#fff" />
      {barSteps.map(d => (
        <rect key={d} x={1653} width={30} y={barY(d)} height={barY(d - 0.2) - barY(d) + 0.5} fill={tmrColor(d - 0.1)} />
      ))}
      <rect x={1653} y={barY(-10)} width={30} height={733 - barY(-10)} fill="#000" />
      <rect x={1653} y={144} width={30} height={589} fill="none" stroke="#000" strokeWidth={2.5} />

      <g ref={axes} />

      {/* energy levels */}
      <g fill="none" stroke={annotation} strokeWidth={6.5}>
        <path d="M181,148H741" />
        <path d="M788,148H817V54H860" />
        <path d="M287,253H847V162H1407" />
      </g>

      <g fontFamily={softFont} fontWeight={900}>
        <text x={20} y={37} fontSize={39}>(a)</text>
        <text x={937} y={37} fontSize={39}>(b)</text>
      </g>
      <g fontFamily={softFont} fontWeight={700}>
        <text x={368} y={92} fontSize={41} fill="#fff" textAnchor="middle">CoFeB</text>
        <text x={1289} y={89} fontSize={41} fill="#fff" textAnchor="middle">FeB</text>
        <text x={820} y={110} fontSize={45} fill={green}>M<tspan dy={10} fontSize={29}>1</tspan></text>
        <text x={853} y={214} fontSize={42} fill={green}>F</text>
      </g>

      <g fontFamily={boldFont} fontWeight={700} fill="#000">
        <text x={373} y={821} fontSize={37} textAnchor="middle">T (K)</text>
        <text x={1281} y={821} fontSize={37} textAnchor="middle">T (K)</text>
        <text transform="translate(842,396) rotate(-90)" fontSize={37} textAnchor="middle">V (V)</text>
        <text transform="translate(842,204) rotate(-90)" fontSize={30} textAnchor="middle">0.45eV</text>
        <text x={1638} y={87} fontSize={37}>TMR<tspan dy={10} fontSize={24}>rel</tspan></text>
        <text x={1687} y={125} fontSize={37} textAnchor="middle">(%)</text>
      </g>
    </svg>
  );
}
